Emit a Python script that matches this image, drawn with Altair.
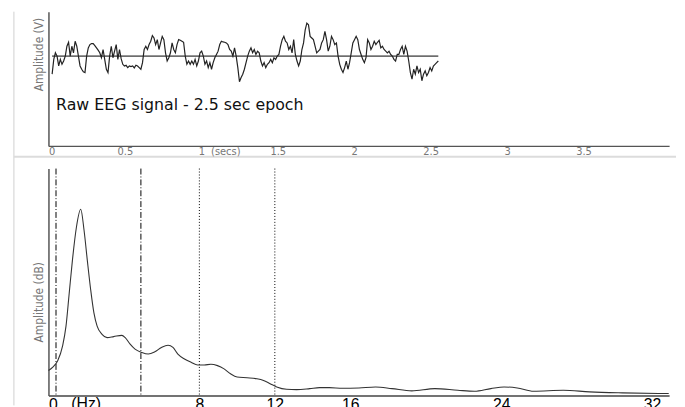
import altair as alt
import pandas as pd

# ---------------- Raw EEG epoch (arbitrary amplitude units) ----------------
eeg_amp = [
    -55, -10, 10, 0, -30, -10, -25, -15, 0, 30,
    42, 0, 30, 10, 45, 30, 0, -30, -40, -48,
    -50, 0, 25, 35, 38, 38, 32, 25, 18, 10,
    -5, 20, -10, -40, -50, 0, 30, -5, 15, 35,
    -10, 20, -8, -25, -30, -28, -35, -30, -32, -30,
    -36, -28, -30, -35, -40, -20, 20, 30, 20, 35,
    45, 62, 55, 35, 50, 20, 40, 60, 50, 10,
    -15, -5, 10, 40, 20, 10, 35, 50, 48, 45,
    42, 0, -25, -15, -25, -15, -25, -10, -30, -15,
    10, 15, 0, -25, -15, -35, -20, -40, -20, -5,
    5, 15, 35, 45, 43, 42, 40, 35, 20, 15,
    0, 25, 0, -35, -78, -65, -55, -40, -20, 0,
    15, 25, 10, 20, 5, 15, 10, -15, -30, -20,
    -35, -25, -20, -10, -20, -5, -10, 0, 5, 30,
    50, 60, 45, 40, 20, 30, 10, 50, 5, -15,
    -30, -15, 20, 40, 80, 100, 95, 60, 55, 50,
    30, 10, 15, 20, 40, 50, 75, 50, 15, 30,
    60, 50, 35, 40, 0, -25, -40, -50, -35, -15,
    -40, -20, 10, 40, 50, 60, 50, 20, 5, -10,
    -20, -5, 50, 40, 20, 30, 45, 35, 42, 48,
    25, 30, 20, 15, 10, 15, 5, 0, -10, -15,
    5, 5, 20, 30, 5, 30, 15, -15, -50, -70,
    -40, -55, -30, -50, -40, -75, -55, -45, -60, -50,
    -35, -45, -30, -25, -20, -15,
]
eeg_t0 = 0.024      # first sample time (s)
eeg_dt = 0.01075    # sampling interval (s)
eeg_time = [round(eeg_t0 + i * eeg_dt, 5) for i in range(len(eeg_amp))]
secs_ticks = [0, 0.5, 1, 1.5, 2, 2.5, 3, 3.5]

# ---------------- Spectrum ----------------
spec_hz = [0, 0.23, 0.49, 0.75, 0.93, 1.10, 1.27, 1.48, 1.71, 1.89,
           2.06, 2.24, 2.41, 2.58, 2.84, 3.11, 3.46, 3.89, 4.07, 4.33,
           4.59, 4.94, 5.29, 5.64, 5.99, 6.34, 6.60, 6.86, 7.21, 7.56,
           7.91, 8.26, 8.61, 8.96, 9.31, 9.65, 10.0, 10.53, 11.05, 11.40,
           11.75, 12.10, 12.62, 13.15, 13.85, 14.37, 14.89, 15.59, 16.46, 17.34,
           18.21, 19.26, 20.48, 21.70, 22.58, 23.45, 24.15, 24.85, 25.72, 27.29,
           28.69, 30.43, 32.88]
spec_amp = [25.3, 28.7, 35.3, 50.3, 70.3, 103.7, 137, 170.3, 188.7, 167,
            137, 107, 83.7, 70.3, 62, 58.7, 59.7, 61, 58.7, 52,
            47, 43.7, 42, 44.3, 48.7, 51, 48.7, 42, 37, 33.7,
            31, 31, 31.7, 30.3, 27, 22, 18.7, 18, 17, 15.3,
            12, 8.7, 6.3, 6, 7, 8, 8, 7.3, 7.7, 8.7,
            7, 4.7, 7, 5.3, 4.3, 7, 8.7, 7.7, 4.3, 5.3,
            3.7, 2.7, 2]
hz_ticks = [0, 8, 12, 16, 24, 32]
band_dashdot = [0.4, 4.9]
band_dotted = [8.0, 12.0]

TOP_W, TOP_H = 629, 136
BOT_W, BOT_H = 629, 230
TITLE_FONT = "Liberation Sans Narrow, DejaVu Sans Condensed, sans-serif"

eeg_df = pd.DataFrame({"t": eeg_time, "a": eeg_amp})
base_df = pd.DataFrame({"t0": [eeg_time[0]], "t1": [eeg_time[-1]], "a": [0]})
note_df = pd.DataFrame({"t": [0.05], "a": [-150], "label": ["Raw EEG signal - 2.5 sec epoch"]})
secs_df = pd.DataFrame({"t": [1.16], "label": ["(secs)"]})

xs_top = alt.Scale(domain=[0, 4.06], nice=False, zero=False)
ys_top = alt.Scale(domain=[-273, 135], nice=False, zero=False)

x_top_axis = alt.Axis(values=secs_ticks, format="~g", ticks=False, grid=False,
                      domainColor="#555", domainWidth=1.5,
                      labelFont="DejaVu Sans", labelFontSize=10, labelColor="#777",
                      labelPadding=1, labelBaseline="top", title=None)
y_top_axis = alt.Axis(labels=False, ticks=False, grid=False, domainColor="#555", domainWidth=1.5,
                      title="Amplitude (V)", titleFont=TITLE_FONT, titleFontSize=12,
                      titleFontWeight="normal", titleColor="#777", titleAngle=-90,
                      titleX=-10, titleY=43, titleAlign="center", titleBaseline="middle")

eeg_line = alt.Chart(eeg_df).mark_line(color="#222", strokeWidth=1.2).encode(
    x=alt.X("t:Q", scale=xs_top, axis=x_top_axis),
    y=alt.Y("a:Q", scale=ys_top, axis=y_top_axis),
)
base_line = alt.Chart(base_df).mark_rule(color="#000", strokeWidth=1).encode(
    x="t0:Q", x2="t1:Q", y="a:Q"
)
note = alt.Chart(note_df).mark_text(align="left", baseline="middle", font="DejaVu Sans",
                                    fontSize=16, color="#111").encode(
    x="t:Q", y="a:Q", text="label:N"
)
secs = alt.Chart(secs_df).mark_text(align="center", baseline="top", font="DejaVu Sans",
                                    fontSize=10, color="#777").encode(
    x="t:Q", y=alt.value(TOP_H + 1), text="label:N"
)
sep_h = alt.Chart(base_df).mark_rule(color="#dcdcdc", strokeWidth=2).encode(
    x=alt.value(-35), x2=alt.value(636), y=alt.value(TOP_H + 11)
)
sep_v = alt.Chart(base_df).mark_rule(color="#cfcfcf", strokeWidth=1).encode(
    x=alt.value(-35), y=alt.value(0), y2=alt.value(399)
)

top = alt.layer(sep_v, sep_h, base_line, eeg_line, note, secs).properties(width=TOP_W, height=TOP_H)

# ---------------- bottom ----------------
spec_df = pd.DataFrame({"hz": spec_hz, "amp": spec_amp})
dd_df = pd.DataFrame({"hz": band_dashdot})
dt_df = pd.DataFrame({"hz": band_dotted})
hz_df = pd.DataFrame({"hz": [2.0], "label": ["(Hz)"]})

xs_bot = alt.Scale(domain=[0, 32.9], nice=False, zero=False)
ys_bot = alt.Scale(domain=[0, 230], nice=False, zero=False)

x_bot_axis = alt.Axis(values=hz_ticks, format="d", ticks=False, grid=False,
                      domainColor="#444", domainWidth=1.5,
                      labelFont="Liberation Sans", labelFontSize=16, labelColor="#000",
                      labelPadding=1, labelBaseline="top", title=None)
y_bot_axis = alt.Axis(labels=False, ticks=False, grid=False, domainColor="#555", domainWidth=1.5,
                      title="Amplitude (dB)", titleFont=TITLE_FONT, titleFontSize=12,
                      titleFontWeight="normal", titleColor="#777", titleAngle=-90,
                      titleX=-10, titleY=135, titleAlign="center", titleBaseline="middle")

spec_line = alt.Chart(spec_df).mark_line(color="#333", strokeWidth=1.1, interpolate="monotone").encode(
    x=alt.X("hz:Q", scale=xs_bot, axis=x_bot_axis),
    y=alt.Y("amp:Q", scale=ys_bot, axis=y_bot_axis),
)
dd_rules = alt.Chart(dd_df).mark_rule(color="#000", strokeWidth=1, strokeDash=[6, 2, 1, 2]).encode(
    x="hz:Q", y=alt.value(0), y2=alt.value(BOT_H)
)
dt_rules = alt.Chart(dt_df).mark_rule(color="#000", strokeWidth=1, strokeDash=[1, 2]).encode(
    x="hz:Q", y=alt.value(0), y2=alt.value(BOT_H)
)
hz_text = alt.Chart(hz_df).mark_text(align="center", baseline="top", font="Liberation Sans",
                                     fontSize=16, color="#000").encode(
    x="hz:Q", y=alt.value(BOT_H + 1), text="label:N"
)

bottom = alt.layer(dd_rules, dt_rules, spec_line, hz_text).properties(width=BOT_W, height=BOT_H)

chart = alt.vconcat(top, bottom, spacing=23, bounds="flush").properties(
    padding={"left": 5, "top": 0, "right": 0, "bottom": 0},
    background="white",
).configure_view(stroke=None)

chart.save("out.html", embed_options={"renderer": "svg", "actions": False})
